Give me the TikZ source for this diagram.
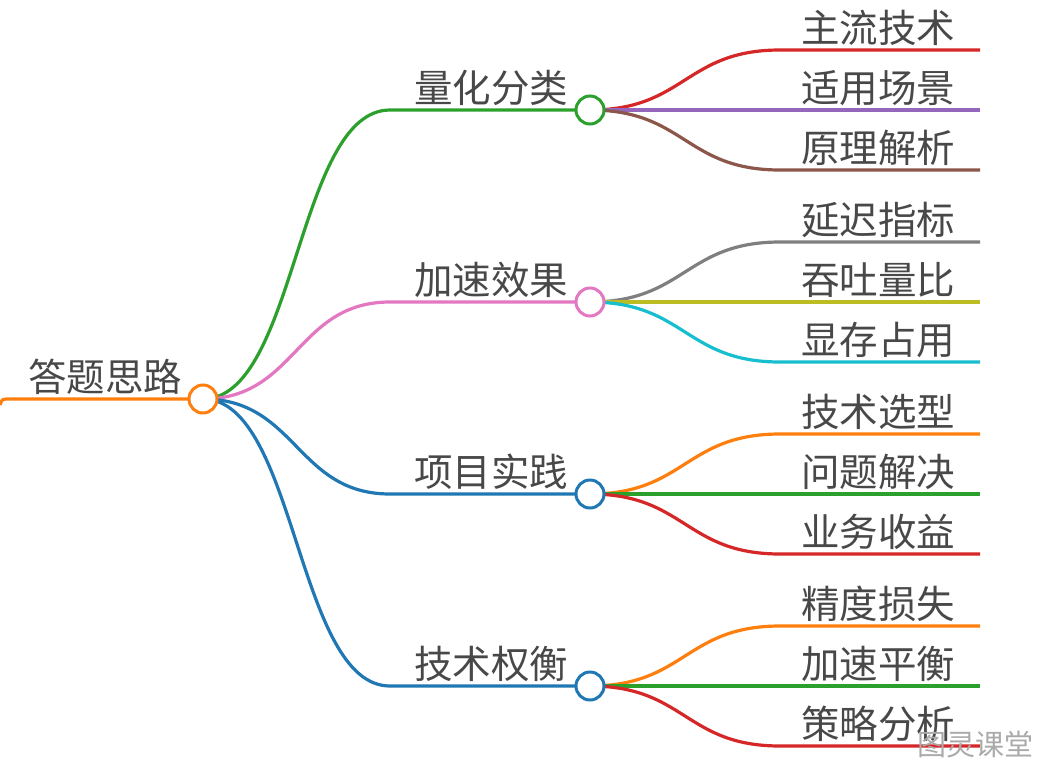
\documentclass[tikz,border=0pt]{standalone}
\usepackage{fontspec}
\setmainfont{Noto Sans CJK SC}
\definecolor{corange}{HTML}{FF7F0E}
\definecolor{cgreen}{HTML}{2CA02C}
\definecolor{cpink}{HTML}{E377C2}
\definecolor{cblue}{HTML}{1F77B4}
\definecolor{cred}{HTML}{D62728}
\definecolor{cpurple}{HTML}{9467BD}
\definecolor{cbrown}{HTML}{8C564B}
\definecolor{cgray}{HTML}{7F7F7F}
\definecolor{colive}{HTML}{BCBD22}
\definecolor{ccyan}{HTML}{17BECF}
\definecolor{txt}{HTML}{484848}
\definecolor{wmgray}{HTML}{AAAAAA}
\tikzset{
  link/.style={line width=3.2pt},
  dot/.style={circle, draw, fill=white, line width=3pt, minimum size=28pt, inner sep=0pt},
  lbl/.style={anchor=base west, inner sep=0pt, font=\fontsize{38.5}{38.5}\selectfont, text=txt},
  wm/.style={inner sep=0pt, font=\fontsize{29}{29}\selectfont},
}
\begin{document}
\begin{tikzpicture}[x=1pt,y=-1pt]
\useasboundingbox (0,0) rectangle (1042,769);
\fill[white] (0,0) rectangle (1042,769);
% root
\coordinate (rc) at (203,399);
\coordinate (rstart) at (0,405);
\coordinate (rbend) at (10,399);
\draw[link,corange] (rstart) .. controls (2,399) .. (rbend) -- (rc);
\node[lbl] (roottext) at (28,391) {答题思路};
% branches
\foreach \i/\by/\bc/\bt in {1/110/cgreen/量化分类,2/302/cpink/加速效果,3/494/cblue/项目实践,4/686/cblue/技术权衡}{
  \coordinate (b\i) at (590,\by);
  \coordinate (b\i s) at (390,\by);
  \draw[link,\bc] (rc) .. controls +(93.5,0) and +(-93.5,0) .. (b\i s) -- (b\i);
  \node[lbl] (bt\i) at (414,\by-7.5) {\bt};
}
% leaves
\foreach \i/\ly/\lc/\lt in {
  1/50/cred/主流技术,1/110/cpurple/适用场景,1/170/cbrown/原理解析,
  2/242/cgray/延迟指标,2/302/colive/吞吐量比,2/362/ccyan/显存占用,
  3/434/corange/技术选型,3/494/cgreen/问题解决,3/554/cred/业务收益,
  4/626/corange/精度损失,4/686/cgreen/加速平衡,4/746/cred/策略分析}{
  \coordinate (L\ly s) at (780,\ly);
  \coordinate (L\ly e) at (980,\ly);
  \draw[link,\lc] (b\i) .. controls +(95,0) and +(-95,0) .. (L\ly s) -- (L\ly e);
  \node[lbl] (lt\ly) at (801,\ly-7.5) {\lt};
}
% circles
\node[dot,draw=corange] (root) at (rc) {};
\foreach \i/\bc in {1/cgreen,2/cpink,3/cblue,4/cblue}{
  \node[dot,draw=\bc] (n\i) at (b\i) {};
}
% watermark
\node[wm,text=wmgray] (wmark) at (975,745) {图灵课堂};
\end{tikzpicture}
\end{document}
